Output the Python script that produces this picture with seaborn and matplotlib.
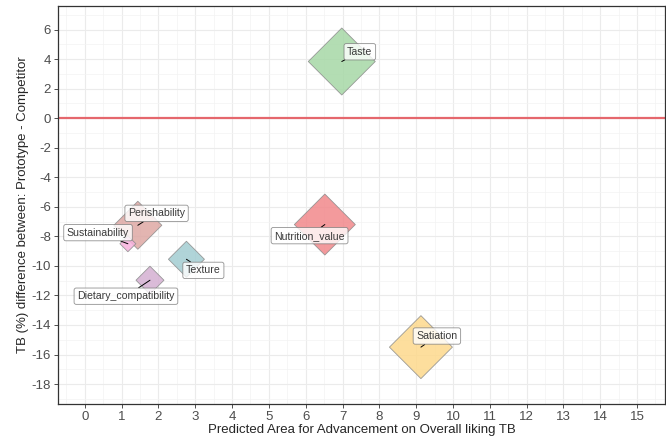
import pandas as pd
import matplotlib
matplotlib.use("Agg")
import matplotlib.pyplot as plt
from matplotlib.ticker import MultipleLocator
import seaborn as sns

# values
attributes = ["Taste", "Nutrition_value", "Satiation", "Perishability",
              "Sustainability", "Texture", "Dietary_compatibility"]
advancement = [6.98, 6.52, 9.13, 1.44, 1.17, 2.76, 1.77]
tb_difference = [3.84, -7.2, -15.5, -7.25, -8.5, -9.55, -10.97]
weight = [1163, 964, 1028, 597, 66, 336, 203]

colors = {
    "Taste": "#a6d8a6",
    "Nutrition_value": "#f2888b",
    "Satiation": "#fdd98c",
    "Perishability": "#dea8a4",
    "Sustainability": "#f7b2dd",
    "Texture": "#a3cdd2",
    "Dietary_compatibility": "#d4b0d2",
}
# label offsets (points) from each diamond
label_offsets = {
    "Taste": (13, 7),
    "Nutrition_value": (-11, -8),
    "Satiation": (11.5, 8),
    "Perishability": (13.5, 8.6),
    "Sustainability": (-21.5, 8),
    "Texture": (12.2, -8),
    "Dietary_compatibility": (-17.3, -11.5),
}

df = pd.DataFrame({"Attribute": attributes, "Advancement": advancement,
                   "TB": tb_difference, "Weight": weight})

sns.set_style("white")
plt.rcParams["font.family"] = ["Liberation Sans", "DejaVu Sans"]
plt.rcParams["axes.unicode_minus"] = False

fig = plt.figure(figsize=(6.66, 4.42), dpi=100)
ax = fig.add_axes([0.087, 0.086, 0.9115, 0.9005])

ax.axhline(0, color="#e5676d", lw=1.6, zorder=2)

sns.scatterplot(data=df, x="Advancement", y="TB", hue="Attribute", palette=colors,
                size="Weight", sizes=(min(weight), max(weight)), marker="D",
                edgecolor="#8a8a8a", linewidth=0.6, alpha=0.85, legend=False,
                ax=ax, zorder=3)

for _, row in df.iterrows():
    ax.annotate(row["Attribute"], xy=(row["Advancement"], row["TB"]),
                xytext=label_offsets[row["Attribute"]], textcoords="offset points",
                ha="center", va="center", fontsize=7.6, color="#3a3a3a",
                bbox=dict(boxstyle="round,pad=0.3,rounding_size=0.2", fc="white",
                          ec="#777777", lw=0.6, alpha=0.8),
                arrowprops=dict(arrowstyle="-", color="black", lw=0.7,
                                shrinkA=0, shrinkB=0),
                zorder=4)

ax.set_xlim(-0.73, 15.76)
ax.set_ylim(-19.35, 7.6)
ax.xaxis.set_major_locator(MultipleLocator(1))
ax.xaxis.set_minor_locator(MultipleLocator(0.5))
ax.yaxis.set_major_locator(MultipleLocator(2))
ax.yaxis.set_minor_locator(MultipleLocator(1))
ax.grid(which="major", color="#ebebeb", lw=0.8, zorder=0)
ax.grid(which="minor", color="#f3f3f3", lw=0.5, zorder=0)
ax.set_axisbelow(True)

ax.tick_params(which="major", length=3, width=0.6, color="#333333",
               labelsize=9.5, labelcolor="#4d4d4d", pad=2, bottom=True, left=True)
ax.tick_params(which="minor", length=0)
for s in ax.spines.values():
    s.set_color("#333333")
    s.set_linewidth(0.9)

ax.set_xlabel("Predicted Area for Advancement on Overall liking TB", fontsize=9.5, labelpad=1)
ax.set_ylabel("TB (%) difference between: Prototype - Competitor", fontsize=9.5, labelpad=2)

fig.savefig("out.png", dpi=100)
